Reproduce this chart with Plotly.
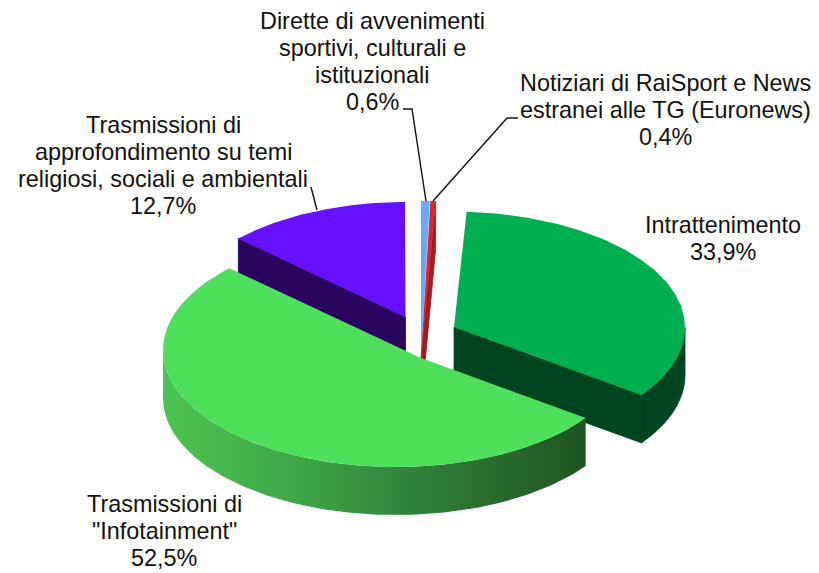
import math
import plotly.graph_objects as go

# Data (clockwise from 12 o'clock)
categories = ["Dirette di avvenimenti<br>sportivi, culturali e<br>istituzionali",
              "Notiziari di RaiSport e News<br>estranei alle TG (Euronews)",
              "Intrattenimento",
              'Trasmissioni di<br>"Infotainment"',
              "Trasmissioni di<br>approfondimento su temi<br>religiosi, sociali e ambientali"]
values = [0.6, 0.4, 33.9, 52.5, 12.7]

# Styles / layout of each exploded slice
top_colors = ["#66aaff", "#d8262e", "#00b050", "#4ee05a", "#6610ff"]
side_colors = ["#3f6fb0", "#a01c22", "#004420", "#2f9a3a", "#2a0560"]
centers = [(421, 318), (421, 318), (452, 327.5), (396, 350), (405, 323)]
tips = [(421, 358), (421, 358), (454, 327), (421, 358), (405.5, 317)]
radii_y = [117, 117, 116, 117, 121]
label_pos = [(372, 61), (665, 110), (723, 238), (164, 531), (163, 165)]
RX, DEPTH = 233, 48
LINE_GAP = 27
# Back-to-front drawing order
order = [4, 0, 1, 2, 3]

total = sum(values)
starts, acc = [], 0.0
for v in values:
    starts.append(acc)
    acc += v


def arc(i, a0=None, a1=None, dy=0, n=120):
    """Points of slice i's rim between the angles its value gives."""
    cx, cy = centers[i]
    lo = starts[i] / total * 2 * math.pi
    hi = (starts[i] + values[i]) / total * 2 * math.pi
    lo = lo if a0 is None else max(lo, a0)
    hi = hi if a1 is None else min(hi, a1)
    pts = [lo + (hi - lo) * k / n for k in range(n + 1)]
    return [cx + RX * math.sin(t) for t in pts], [cy - radii_y[i] * math.cos(t) + dy for t in pts]


def poly(fig, xs, ys, color=None, gradient=None, seam=False):
    kw = dict(x=list(xs) + [xs[0]], y=list(ys) + [ys[0]], mode="lines", fill="toself",
              line=dict(width=0.8 if seam else 0, color=color), hoverinfo="skip", showlegend=False)
    if gradient:
        kw["fillgradient"] = dict(type="horizontal", colorscale=gradient)
    else:
        kw["fillcolor"] = color
    fig.add_trace(go.Scatter(**kw))


fig = go.Figure()
grad = [[0, "#4cc452"], [0.3, "#3fa848"], [0.6, "#30803a"], [1, "#1f5420"]]

for i in order:
    tx, ty = tips[i]
    ax, ay = arc(i)
    # cut faces (extruded radial edges)
    if i in (1, 2, 4):
        ex, ey = (ax[-1], ay[-1]) if i != 4 else (ax[0], ay[0])
        poly(fig, [tx, ex, ex, tx], [ty, ey, ey + DEPTH, ty + DEPTH], side_colors[i], seam=True)
    # outer rim (only the part facing the viewer)
    lo, hi = math.pi / 2, 3 * math.pi / 2
    if i == 2 or i == 3:
        bx, by = arc(i, lo, hi)
        bx2, by2 = arc(i, lo, hi, dy=DEPTH)
        if i == 3:
            poly(fig, bx + bx2[::-1], by + by2[::-1], gradient=grad)
        else:
            poly(fig, bx + bx2[::-1], by + by2[::-1], side_colors[i], seam=True)
    # top face
    poly(fig, [tx] + ax, [ty] + ay, top_colors[i])

# leader lines
leaders = [([403, 412, 426], [109, 109, 201]),
           ([518, 507, 433], [118, 118, 201]),
           ([311, 317], [187, 210])]
for lx, ly in leaders:
    fig.add_trace(go.Scatter(x=lx, y=ly, mode="lines", line=dict(color="#111111", width=1.4),
                             hoverinfo="skip", showlegend=False))

for name, v, (lx, ly) in zip(categories, values, label_pos):
    lines = name.split("<br>") + [f"{str(v).replace('.', ',')}%"]
    for k, line in enumerate(lines):
        fig.add_annotation(x=lx, y=ly + (k - (len(lines) - 1) / 2) * LINE_GAP, text=line,
                           showarrow=False, xanchor="center", yanchor="middle", align="center",
                           font=dict(family="Liberation Sans", size=23.4, color="#111111"))

fig.update_layout(width=819, height=573, margin=dict(l=0, r=0, t=0, b=0),
                  paper_bgcolor="white", plot_bgcolor="white", showlegend=False,
                  xaxis=dict(range=[0, 819], visible=False, fixedrange=True),
                  yaxis=dict(range=[573, 0], visible=False, fixedrange=True))
fig.write_html("out.html", config=dict(displayModeBar=False),
               post_script="document.body.style.margin='0';document.documentElement.style.overflow='hidden';")
